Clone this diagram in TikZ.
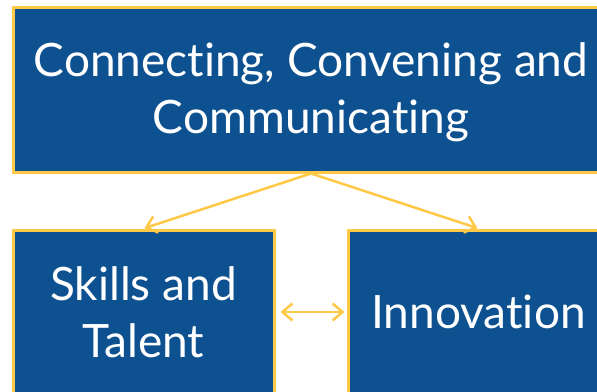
\documentclass[tikz,border=0pt]{standalone}
\usepackage{fontspec}
\setmainfont{Lato}[Ligatures={NoCommon,NoRare,NoContextual}]
\usetikzlibrary{arrows.meta}
\definecolor{boxblue}{RGB}{14,81,145}
\definecolor{gold}{RGB}{255,200,70}
\begin{document}
\begin{tikzpicture}[x=1pt,y=-1pt,
  box/.style={draw=gold, fill=boxblue, line width=3pt, text=white, align=center,
    font=\fontsize{46}{56}\selectfont, inner sep=0pt},
  tip/.style={},
  link/.style={draw=gold, line width=2.5pt, -{Straight Barb[length=10pt,width=17pt]}}]
\useasboundingbox (0,0) rectangle (597,391);
\clip (0,0) rectangle (597,391);
\node[box, minimum width=596pt, minimum height=165pt] (top) at (311,89.5) {};
\node[text=white, align=center, font=\fontsize{46}{57}\selectfont, inner sep=0pt] (toptext) at (311,92) {Connecting, Convening and\\Communicating};
\node[box, minimum width=261pt, minimum height=164pt] (skills) at (143.5,312) {};
\node[text=white, align=center, font=\fontsize{46}{57}\selectfont, inner sep=0pt] (skillstext) at (143.5,312) {Skills and\\Talent};
\node[box, minimum width=261pt, minimum height=164pt] (innov) at (478.5,312) {Innovation};
\draw[link, shorten >=1pt] (top.south) -- (skills.north);
\draw[link, shorten >=1pt] (top.south) -- (innov.north);
\draw[link, {Straight Barb[length=10pt,width=17pt]}-{Straight Barb[length=10pt,width=17pt]}, shorten <=5pt, shorten >=2pt] (skills.east) -- (innov.west);
\end{tikzpicture}
\end{document}
